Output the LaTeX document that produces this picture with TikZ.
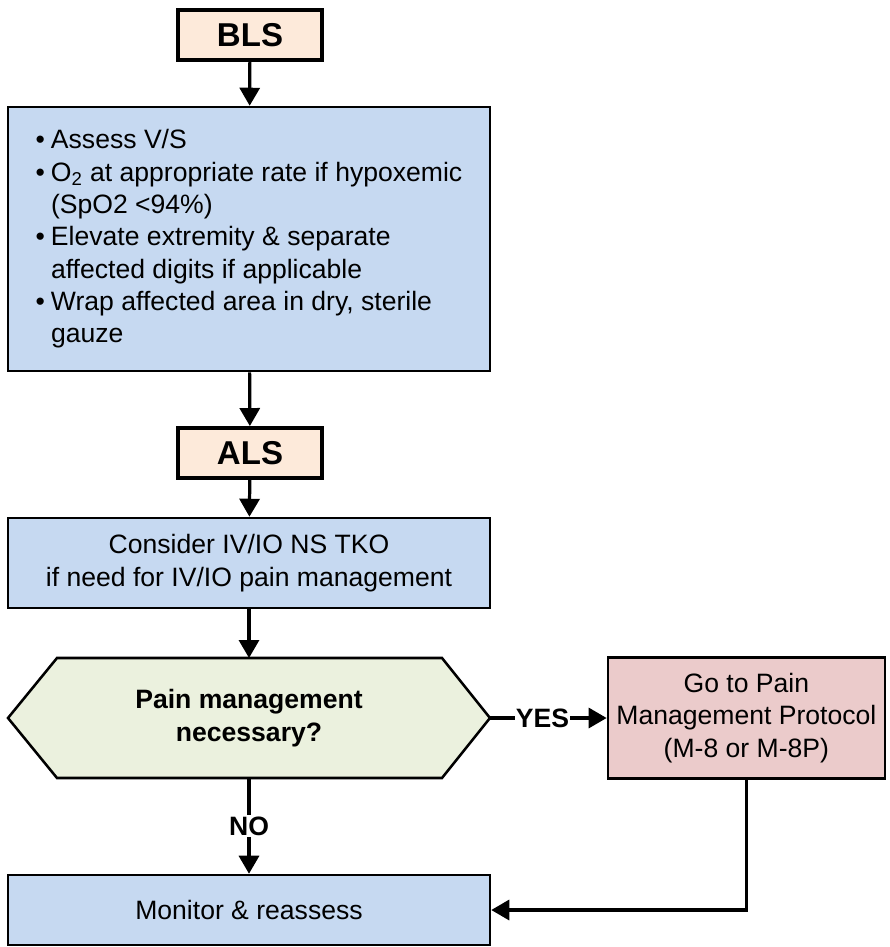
\documentclass[tikz,border=0pt]{standalone}
\usepackage{fontspec}
\setmainfont{Liberation Sans}
\usetikzlibrary{arrows.meta,positioning,backgrounds}
\definecolor{stagefill}{HTML}{FDEADA}
\definecolor{actionfill}{HTML}{C6D9F1}
\definecolor{decisionfill}{HTML}{EBF1DE}
\definecolor{protocolfill}{HTML}{EBCBCB}
\newcommand{\bul}{\textbullet\hspace{0.15cm}}
\newcommand{\bulgap}{\hphantom{\bul}}

\begin{document}
\begin{tikzpicture}[font=\fontsize{18.9}{23}\selectfont,
    stage/.style={draw, line width=2.8pt, fill=stagefill, minimum width=3.6cm, minimum height=1.25cm, font=\fontsize{23.5}{26}\selectfont\bfseries},
    action/.style={draw, line width=1.8pt, fill=actionfill, minimum width=12.05cm, align=center},
    flow/.style={-{Triangle[width=0.5cm,length=0.45cm]}, line width=2.3pt},
    answer/.style={fill=white, inner sep=1pt, font=\fontsize{18.9}{23}\selectfont\bfseries}]
    \useasboundingbox (0,0) rectangle (22.225,-23.675);

    \node[stage] (bls) at (6.25,-0.875) {BLS};
    \node[action, minimum height=6.6cm, align=left] (assess) at (6.225,-5.975) {\bul Assess V/S\\
        \bul O\textsubscript{2} at appropriate rate if hypoxemic\\
        \bulgap (SpO2 <94\%)\\
        \bul Elevate extremity \& separate\\
        \bulgap affected digits if applicable\\
        \bul Wrap affected area in dry, sterile\\
        \bulgap gauze};
    \node[stage] (als) at (6.25,-11.325) {ALS};
    \node[action, minimum height=2.25cm] (iv) at (6.225,-14.075) {Consider IV/IO NS TKO\\if need for IV/IO pain management};

    \node[minimum width=12.05cm, minimum height=3cm, outer sep=0pt, align=center, font=\fontsize{18.9}{23}\selectfont\bfseries] (pain) at (6.225,-17.95) {Pain management\\necessary?};
    \begin{scope}[on background layer]
        \draw[line width=1.8pt, fill=decisionfill] (pain.west) -- ([xshift=1.225cm]pain.north west) -- ([xshift=-1.2cm]pain.north east) -- (pain.east) -- ([xshift=-1.2cm]pain.south east) -- ([xshift=1.225cm]pain.south west) -- cycle;
    \end{scope}

    \node[draw, line width=1.8pt, fill=protocolfill, minimum width=6.925cm, minimum height=3.025cm, align=center] (protocol) at (18.66,-17.95) {Go to Pain\\Management Protocol\\(M-8 or M-8P)};
    \node[action, minimum height=1.75cm] (monitor) at (6.225,-22.75) {Monitor \& reassess};

    \draw[flow] (bls) -- (assess);
    \draw[flow] (assess) -- (als);
    \draw[flow] (als) -- (iv);
    \draw[flow] (iv) -- (pain);
    \draw[flow] (pain.east) -- node[answer, pos=0.45] {YES} (protocol);
    \draw[flow] (pain.south) -- node[answer] {NO} (monitor);
    \draw[flow] (protocol.south) |- (monitor.east);
\end{tikzpicture}
\end{document}
